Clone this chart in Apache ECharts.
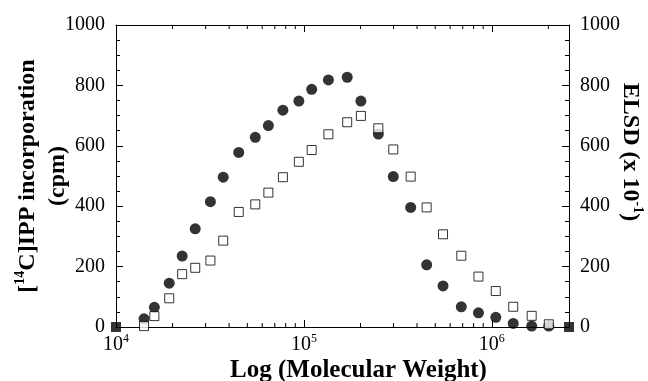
<!DOCTYPE html>
<html>
<head>
<meta charset="utf-8">
<script src="https://cdn.jsdelivr.net/npm/echarts@6/dist/echarts.min.js"></script>
<style>
  html, body { margin: 0; padding: 0; background: #fff; }
  #mw-chart { width: 648px; height: 381px; }
</style>
</head>
<body>
<div id="mw-chart"></div>
<script>
// molecular weight of each fraction
var molWeights = [14100, 16000, 19200, 22500, 26400, 31800, 37200, 45000, 55100, 64700,
  77300, 94000, 110000, 135000, 170000, 201000, 249000, 299000, 370000, 450000,
  550000, 688000, 849000, 1050000, 1300000, 1630000, 2010000]
// [14C]IPP incorporation (cpm), filled circles
var cpmValues = [27, 65, 145, 235, 325, 415, 496, 578, 628, 667,
  718, 748, 787, 818, 827, 748, 639, 498, 396, 206,
  136, 67, 47, 32, 12, 3, 3]
// ELSD (x 10^-1), open squares
var elsdValues = [3, 36, 95, 175, 196, 220, 286, 381, 406, 445,
  496, 547, 586, 638, 678, 699, 658, 588, 498, 396,
  307, 236, 167, 119, 67, 37, 9]
// filled squares sitting on the baseline at both ends
var endMarkers = [[10000, 0], [2575000, 0]]
var xMin = 10000
var xMax = 2575000
// minor ticks of the log axis
var logMinorTicks = [20000, 30000, 40000, 50000, 60000, 70000, 80000, 90000,
  200000, 300000, 400000, 500000, 600000, 700000, 800000, 900000, 2000000]

function pairs(xs, ys) {
  var res = []
  for (var i = 0; i < xs.length; i++) {
    res.push([xs[i], ys[i]])
  }
  return res
}

var serif = 'Liberation Serif'

function powLabel(value) {
  var e = Math.log10(value)
  if (Math.abs(e - Math.round(e)) < 1e-6) {
    return '{b|10}{s|' + Math.round(e) + '}'
  }
  return ''
}

var tickStyle = { inside: true, length: 7, lineStyle: { color: '#000', width: 1 } }
var minorStyle = { show: true, length: 4, lineStyle: { color: '#000', width: 1 } }
var lineStyle = { show: true, onZero: false, lineStyle: { color: '#000', width: 1 } }
var nameRich = {
  t: { fontFamily: serif, fontWeight: 'bold', fontSize: 24, color: '#000', lineHeight: 30 },
  s: { fontFamily: serif, fontWeight: 'bold', fontSize: 14, color: '#000', verticalAlign: 'top', lineHeight: 30 }
}
var numLabel = {
  fontFamily: serif, fontSize: 20, color: '#000', margin: 11,
  formatter: function(v) { return String(v) }
}

var chart = echarts.init(document.getElementById('mw-chart'))
var option = {
  backgroundColor: '#fff',
  animation: false,
  grid: { left: 116, right: 79, top: 25, bottom: 54, containLabel: false, outerBoundsMode: 'none' },
  xAxis: [
    {
      type: 'log',
      logBase: 10,
      min: xMin,
      max: xMax,
      name: 'Log (Molecular Weight)',
      nameLocation: 'middle',
      nameGap: 31,
      nameMoveOverlap: false,
      nameTextStyle: { fontFamily: serif, fontWeight: 'bold', fontSize: 25, color: '#000', padding: [0, 0, 0, 32] },
      axisLine: lineStyle,
      axisTick: tickStyle,
      splitLine: { show: false },
      axisLabel: {
        margin: 6,
        formatter: powLabel,
        rich: {
          b: { fontFamily: serif, fontSize: 20, color: '#000', lineHeight: 24 },
          s: { fontFamily: serif, fontSize: 12, color: '#000', verticalAlign: 'top', lineHeight: 24 }
        }
      }
    },
    {
      type: 'log',
      logBase: 10,
      position: 'top',
      min: xMin,
      max: xMax,
      axisLine: lineStyle,
      axisTick: tickStyle,
      splitLine: { show: false },
      axisLabel: { show: false }
    }
  ],
  yAxis: [
    {
      type: 'value',
      min: 0,
      max: 1000,
      interval: 200,
      name: '{t|[}{s|14}{t|C]IPP incorporation}\n{t|(cpm)}',
      nameLocation: 'middle',
      nameRotate: 90,
      nameGap: 43,
      nameMoveOverlap: false,
      nameTextStyle: { rich: nameRich },
      axisLine: lineStyle,
      axisTick: tickStyle,
      minorTick: Object.assign({ splitNumber: 4 }, minorStyle),
      splitLine: { show: false },
      axisLabel: numLabel
    },
    {
      type: 'value',
      min: 0,
      max: 1000,
      interval: 200,
      position: 'right',
      name: '{t|ELSD (x 10}{s|-1}{t|)}',
      nameLocation: 'middle',
      nameRotate: -90,
      nameGap: 46,
      nameMoveOverlap: false,
      nameTextStyle: { rich: nameRich, padding: [0, 48, 0, 0] },
      axisLine: lineStyle,
      axisTick: tickStyle,
      minorTick: Object.assign({ splitNumber: 4 }, minorStyle),
      splitLine: { show: false },
      axisLabel: numLabel
    }
  ],
  series: [
    {
      name: 'cpm',
      type: 'scatter',
      xAxisIndex: 0,
      yAxisIndex: 0,
      symbol: 'circle',
      symbolSize: 11,
      itemStyle: { color: '#000' },
      data: pairs(molWeights, cpmValues)
    },
    {
      name: 'ELSD',
      type: 'scatter',
      xAxisIndex: 0,
      yAxisIndex: 1,
      symbol: 'rect',
      symbolSize: 9,
      itemStyle: { color: '#fff', borderColor: '#000', borderWidth: 1 },
      data: pairs(molWeights, elsdValues)
    },
    {
      name: 'ends',
      type: 'scatter',
      xAxisIndex: 0,
      yAxisIndex: 0,
      symbol: 'rect',
      symbolSize: 10,
      clip: false,
      itemStyle: { color: '#000' },
      data: endMarkers
    },
    {
      // minor ticks of the log axis, bottom and top edges
      name: 'minor',
      type: 'custom',
      xAxisIndex: 0,
      yAxisIndex: 0,
      silent: true,
      data: logMinorTicks.map(function(v) { return [v, 0] }),
      renderItem: function(params, api) {
        var bottom = api.coord([api.value(0), 0])
        var top = api.coord([api.value(0), 1000])
        var st = { stroke: '#000', lineWidth: 1 }
        return {
          type: 'group',
          children: [
            { type: 'line', shape: { x1: bottom[0], y1: bottom[1], x2: bottom[0], y2: bottom[1] - 4 }, style: st },
            { type: 'line', shape: { x1: top[0], y1: top[1], x2: top[0], y2: top[1] + 4 }, style: st }
          ]
        }
      }
    }
  ]
}

chart.setOption(option)
window.addEventListener('resize', function() {
  chart.resize()
})
</script>
</body>
</html>
